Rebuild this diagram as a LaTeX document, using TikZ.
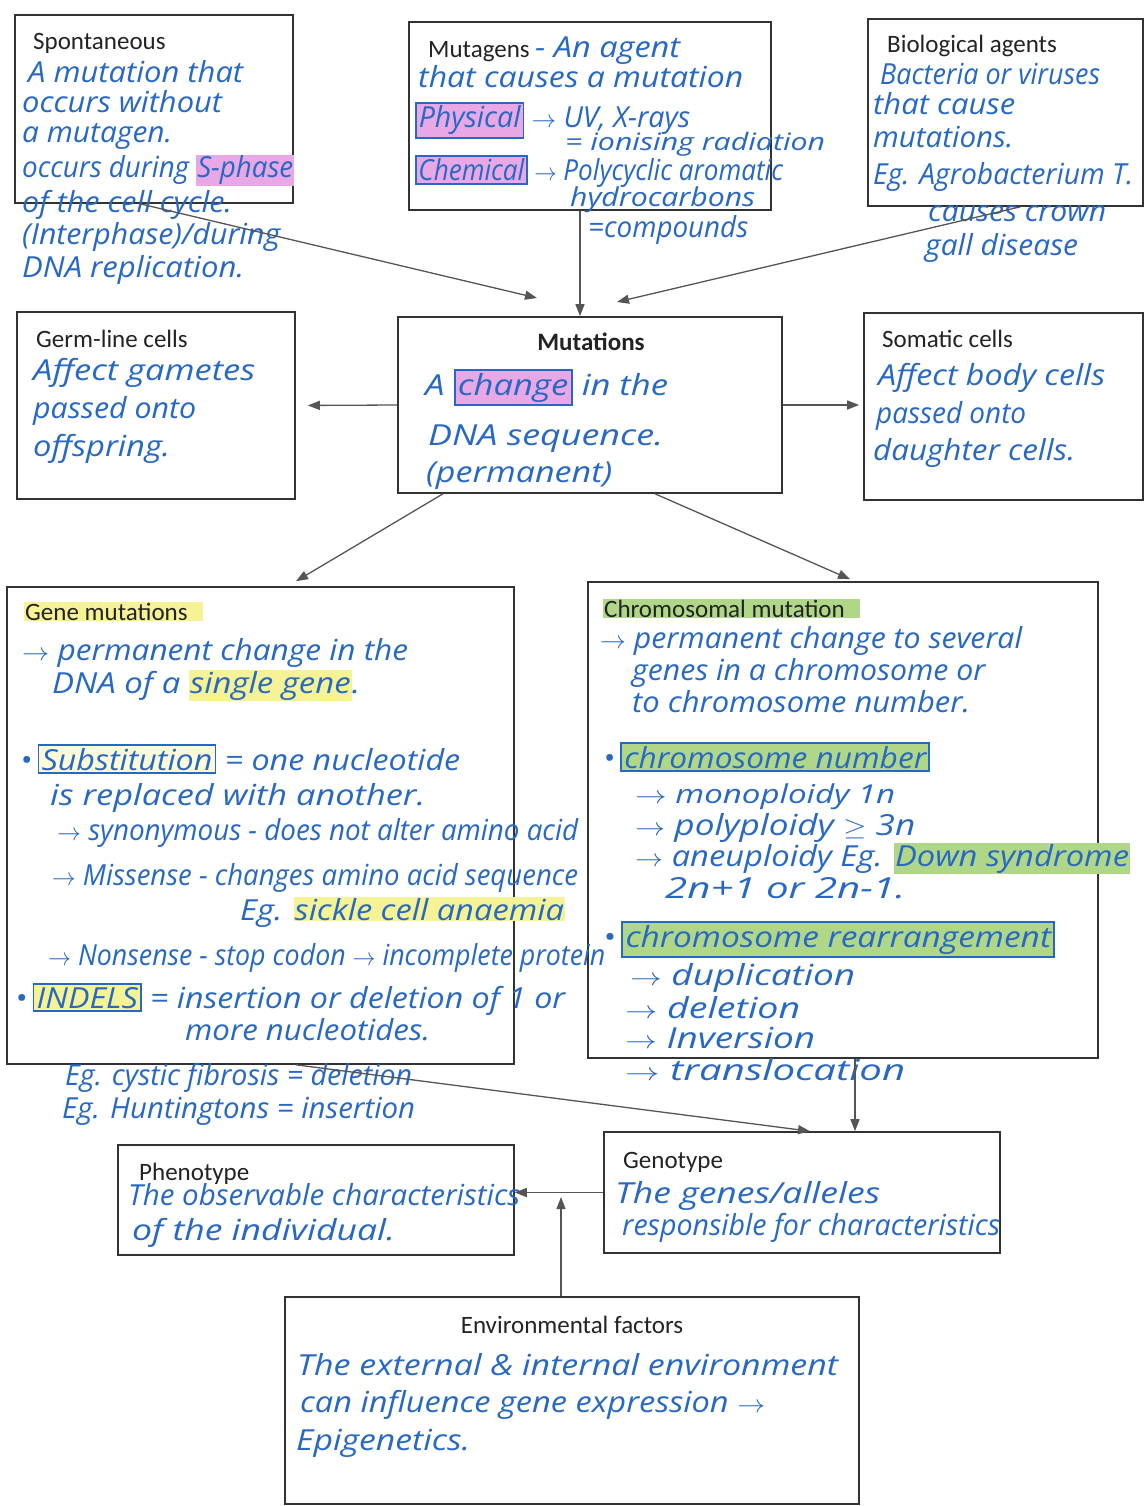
\documentclass[tikz,border=0pt]{standalone}
\usepackage{fontspec}
\usepackage{graphicx}
\usetikzlibrary{arrows.meta}
\newfontfamily\labfam{Carlito}
\newfontfamily\handfam{Open Sans}
\definecolor{handc}{RGB}{38,104,196}
\definecolor{framec}{RGB}{50,50,50}
\definecolor{arrc}{RGB}{85,85,85}
\definecolor{labc}{RGB}{35,35,35}
\definecolor{pinkhl}{RGB}{232,168,230}
\definecolor{yelhl}{RGB}{246,243,150}
\definecolor{grnhl}{RGB}{176,214,136}
\definecolor{paleyel}{RGB}{252,250,215}
\newcommand\labfont{\labfam\fontsize{25}{29}\selectfont}
\newcommand\handfont{\handfam\itshape\fontsize{29}{31}\selectfont}
\newcommand\fw[2]{\resizebox{#1pt}{\height}{#2}}
\newcommand\hlc[2]{{\setlength\fboxsep{1pt}\colorbox{#1}{#2}}}
\newcommand\fhl[2]{{\setlength\fboxsep{2pt}\setlength\fboxrule{1.6pt}\fcolorbox{handc}{#1}{#2}}}
\newcommand\ra{$\rightarrow$}
\tikzset{
  box/.style={draw=framec, line width=1.6pt, inner sep=0pt},
  lab/.style={font=\labfont, text=labc, anchor=base west, inner sep=0pt},
  hw/.style={font=\handfont, text=handc, anchor=base west, inner sep=0pt},
  hws/.style={hw, font=\handfam\itshape\fontsize{26}{28}\selectfont},
  hwt/.style={hw, font=\handfam\itshape\fontsize{24}{26}\selectfont},
  arr/.style={draw=arrc, line width=1.3pt, -{Triangle[length=12pt,width=9pt]}},
}
\begin{document}
\begin{tikzpicture}[x=1pt,y=-1pt]
\fill[white] (0,0) rectangle (1145,1506);
\useasboundingbox (0,0) rectangle (1145,1506);

% ---------- boxes ----------
\node[box, minimum width=278pt, minimum height=188pt] (spont) at (154,109) {};
\node[box, minimum width=362pt, minimum height=188pt] (mutag) at (590,116) {};
\node[box, minimum width=275pt, minimum height=187pt] (bio) at (1005.5,112.5) {};
\node[box, minimum width=278pt, minimum height=187pt] (germ) at (156,405.5) {};
\node[box, minimum width=384pt, minimum height=176pt] (mut) at (590,405) {};
\node[box, minimum width=279pt, minimum height=187pt] (soma) at (1003.5,406.5) {};
\node[box, minimum width=507pt, minimum height=477pt] (gene) at (260.5,825.5) {};
\node[box, minimum width=510pt, minimum height=476pt] (chrom) at (843,820) {};
\node[box, minimum width=396pt, minimum height=110pt] (pheno) at (316,1200) {};
\node[box, minimum width=396pt, minimum height=121pt] (geno) at (802,1192.5) {};
\node[box, minimum width=574pt, minimum height=207pt] (env) at (572,1400.5) {};

% ---------- Spontaneous ----------
\node[lab] (spL) at (33,50) {Spontaneous};
\node[hw] (sp1) at (28,83) {\fw{215}{A mutation that}};
\node[hw] (sp2) at (22,113) {\fw{200}{occurs without}};
\node[hw] (sp3) at (22,143) {\fw{150}{a mutagen.}};
\node[hw] (sp4) at (22,178) {\fw{272}{occurs during \hlc{pinkhl}{S-phase}}};
\node[hw] (sp5) at (22,213) {\fw{210}{of the cell cycle.}};
\node[hw] (sp6) at (22,245) {\fw{258}{(Interphase)/during}};
\node[hw] (sp7) at (22,277) {\fw{222}{DNA replication.}};

% ---------- Mutagens ----------
\node[lab] (mgL) at (428,58) {Mutagens};
\node[hw] (mg0) at (535,58) {\fw{145}{- An agent}};
\node[hw] (mg1) at (418,88) {\fw{325}{that causes a mutation}};
\node[hw] (mg2) at (415,128) {\fw{275}{\fhl{pinkhl}{Physical} \ra{} UV, X-rays}};
\node[hwt] (mg3) at (565,151) {\fw{260}{= ionising radiation}};
\node[hw] (mg4) at (415,181) {\fw{368}{\fhl{pinkhl}{Chemical} \ra{} Polycyclic aromatic}};
\node[hws] (mg5) at (570,207) {\fw{185}{hydrocarbons}};
\node[hw] (mg6) at (588,238) {\fw{160}{=compounds}};

% ---------- Biological agents ----------
\node[lab] (biL) at (887,53) {Biological agents};
\node[hw] (bi1) at (880,85) {\fw{220}{Bacteria or viruses}};
\node[hw] (bi2) at (873,115) {\fw{142}{that cause}};
\node[hw] (bi3) at (873,148) {\fw{140}{mutations.}};
\node[hw] (bi4) at (873,185) {\fw{260}{Eg. Agrobacterium T.}};
\node[hw] (bi5) at (928,222) {\fw{178}{causes crown}};
\node[hw] (bi6) at (925,255) {\fw{153}{gall disease}};

% ---------- Germ-line cells ----------
\node[lab] (geL) at (36,347) {Germ-line cells};
\node[hw] (ge1) at (33,380) {\fw{222}{Affect gametes}};
\node[hw] (ge2) at (33,418) {\fw{163}{passed onto}};
\node[hw] (ge3) at (33,456) {\fw{137}{offspring.}};

% ---------- Mutations ----------
\node[lab, anchor=base] (muL) at (591,350) {\bfseries Mutations};
\node[hw] (mu1) at (425,395) {\fw{243}{A \fhl{pinkhl}{change} in the}};
\node[hw] (mu2) at (428,445) {\fw{235}{DNA sequence.}};
\node[hw] (mu3) at (426,482) {\fw{186}{(permanent)}};

% ---------- Somatic cells ----------
\node[lab] (soL) at (882,347) {Somatic cells};
\node[hw] (so1) at (878,385) {\fw{227}{Affect body cells}};
\node[hw] (so2) at (876,423) {\fw{150}{passed onto}};
\node[hw] (so3) at (873,460) {\fw{202}{daughter cells.}};

% ---------- Gene mutations ----------
\node[lab] (gmL) at (24,620) {\hlc{yelhl}{Gene mutations\hspace{14pt}}};
\node[hw] (gm1) at (22,660) {\fw{386}{\ra{} permanent change in the}};
\node[hw] (gm2) at (52,693) {\fw{308}{DNA of a \hlc{yelhl}{single gene}.}};
\node[hw] (gm3) at (20,770) {\fw{440}{\textbullet\,\fhl{paleyel}{Substitution} = one nucleotide}};
\node[hw] (gm4) at (50,805) {\fw{375}{is replaced with another.}};
\node[hw] (gm5) at (57,840) {\fw{521}{\ra{} synonymous - does not alter amino acid}};
\node[hw] (gm6) at (52,885) {\fw{526}{\ra{} Missense - changes amino acid sequence}};
\node[hw] (gm7) at (240,920) {\fw{325}{Eg. \hlc{yelhl}{sickle cell anaemia}}};
\node[hw] (gm8) at (48,965) {\fw{557}{\ra{} Nonsense - stop codon \ra{} incomplete protein}};
\node[hw] (gm9) at (15,1008) {\fw{550}{\textbullet\,\fhl{yelhl}{INDELS} = insertion or deletion of 1 or}};
\node[hw] (gm10) at (185,1040) {\fw{245}{more nucleotides.}};
\node[hw] (gm11) at (65,1085) {\fw{347}{Eg. cystic fibrosis = deletion}};
\node[hw] (gm12) at (62,1118) {\fw{353}{Eg. Huntingtons = insertion}};

% ---------- Chromosomal mutation ----------
\node[lab] (cmL) at (603,617) {\hlc{grnhl}{Chromosomal mutation\hspace{14pt}}};
\node[hw] (cm1) at (600,648) {\fw{422}{\ra{} permanent change to several}};
\node[hw] (cm2) at (632,680) {\fw{353}{genes in a chromosome or}};
\node[hw] (cm3) at (632,712) {\fw{338}{to chromosome number.}};
\node[hw] (cm4) at (603,768) {\fw{327}{\textbullet\,\fhl{grnhl}{chromosome number}}};
\node[hws] (cm5) at (635,803) {\fw{260}{\ra{} monoploidy 1n}};
\node[hw] (cm6) at (635,835) {\fw{280}{\ra{} polyploidy $\geq$ 3n}};
\node[hw] (cm7) at (635,866) {\fw{495}{\ra{} aneuploidy Eg. \hlc{grnhl}{Down syndrome}}};
\node[hw] (cm8) at (665,898) {\fw{240}{2n+1 or 2n-1.}};
\node[hw] (cm9) at (603,947) {\fw{452}{\textbullet\,\fhl{grnhl}{chromosome rearrangement}}};
\node[hw] (cm10) at (630,985) {\fw{225}{\ra{} duplication}};
\node[hw] (cm11) at (625,1018) {\fw{175}{\ra{} deletion}};
\node[hw] (cm12) at (625,1048) {\fw{190}{\ra{} Inversion}};
\node[hw] (cm13) at (625,1080) {\fw{280}{\ra{} translocation}};

% ---------- Phenotype ----------
\node[lab] (phL) at (139,1180) {Phenotype};
\node[hw] (ph1) at (128,1205) {\fw{392}{The observable characteristics}};
\node[hw] (ph2) at (132,1240) {\fw{263}{of the individual.}};

% ---------- Genotype ----------
\node[lab] (gtL) at (623,1168) {Genotype};
\node[hw] (gt1) at (615,1203) {\fw{265}{The genes/alleles}};
\node[hw] (gt2) at (622,1235) {\fw{378}{responsible for characteristics}};

% ---------- Environmental factors ----------
\node[lab, anchor=base] (enL) at (572,1333) {Environmental factors};
\node[hw] (en1) at (297,1375) {\fw{541}{The external \& internal environment}};
\node[hw] (en2) at (300,1412) {\fw{465}{can influence gene expression \ra}};
\node[hw] (en3) at (296,1450) {\fw{174}{Epigenetics.}};

% ---------- connectors ----------
\coordinate (t1) at (537,298);
\coordinate (t3) at (617,302);
\coordinate (t11) at (561,1197);
\draw[arr] ([xshift=-14pt]spont.south) -- (t1);
\draw[arr] ([xshift=-10pt]mutag.south) -- ([xshift=-10pt]mut.north);
\draw[arr] ([xshift=15pt]bio.south) -- (t3);
\draw[arr, shorten >=12pt] (mut.west) -- (germ.east);
\draw[arr, shorten >=4pt] (mut.east) -- (mut.east -| soma.west);
\draw[arr] ([xshift=-147pt]mut.south) -- ([xshift=35.5pt,yshift=5pt]gene.north);
\draw[arr] ([xshift=65pt]mut.south) -- ([xshift=7pt,yshift=2pt]chrom.north);
\draw[arr] ([xshift=35.5pt]gene.south) -- ([xshift=8pt]geno.north);
\draw[arr] ([xshift=12pt]chrom.south) -- ([xshift=53pt]geno.north);
\draw[arr] (geno.west) -- (geno.west -| pheno.east);
\draw[arr] ([xshift=-11pt]env.north) -- (t11);
\end{tikzpicture}
\end{document}
